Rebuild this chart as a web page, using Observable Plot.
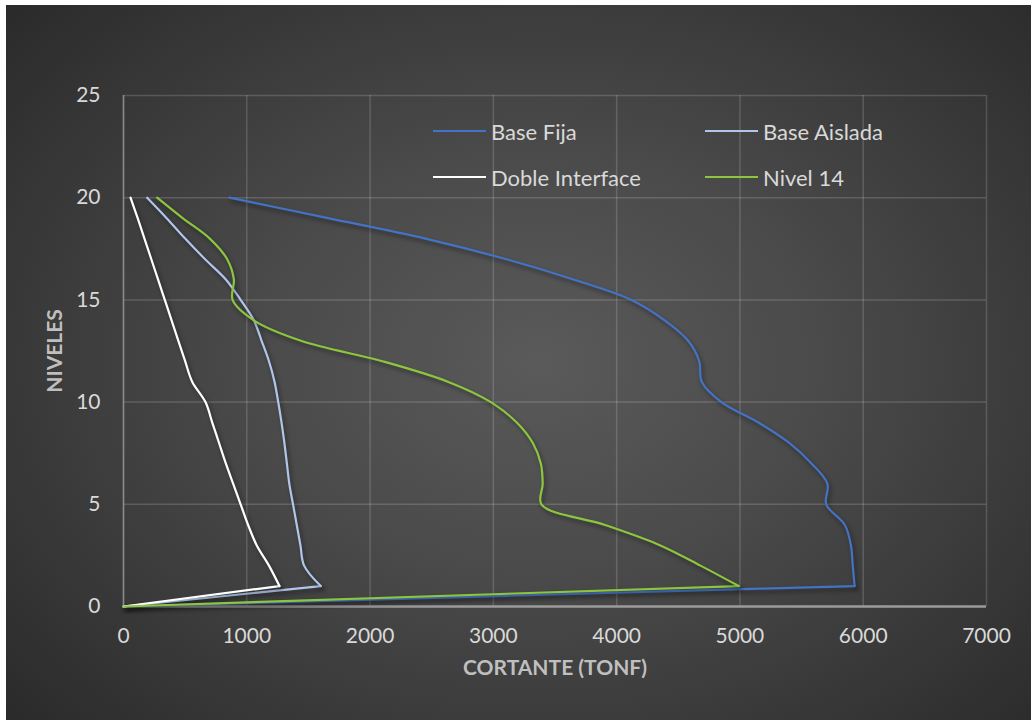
<!DOCTYPE html>
<html>
<head>
<meta charset="utf-8">
<script src="https://cdn.jsdelivr.net/npm/d3@7"></script>
<script src="https://cdn.jsdelivr.net/npm/@observablehq/plot@0.6"></script>
<style>
  html, body { margin: 0; padding: 0; background: #ffffff; }
  #wrap { position: relative; width: 1031px; height: 720px; overflow: hidden; }
  #bg {
    position: absolute; left: 6px; top: 5px; right: 0; bottom: 0;
    background: radial-gradient(ellipse 70% 75% at 52% 50%, #5a5a5a 0%, #4a4a4a 40%, #2a2a2a 100%);
  }
  #chart { position: absolute; left: 0; top: 0; }
  .legend { position: absolute; font-family: Lato, "Open Sans", sans-serif; font-size: 22px; color: #d9d9d9; }
  .item { position: absolute; display: flex; align-items: center; white-space: nowrap; }
  .swatch { display: inline-block; width: 53px; height: 2.5px; margin-right: 5px; }
</style>
</head>
<body>
<div id="wrap">
  <div id="bg"></div>
  <div id="chart"></div>
  <div id="legend" class="legend"></div>
</div>
<script>
// Storey levels (0 = base, 20 = roof)
const levels = [0, 1, 2, 3, 4, 5, 6, 7, 8, 9, 10, 11, 12, 13, 14, 15, 16, 17, 18, 19, 20];

// Storey shear (tonf) for each level
const baseFija       = [0, 5930, 5915, 5900, 5850, 5700, 5710, 5580, 5400, 5150, 4850, 4690, 4670, 4580, 4390, 4120, 3650, 3100, 2450, 1660, 860];
const baseAislada    = [0, 1600, 1465, 1435, 1405, 1375, 1345, 1325, 1305, 1282, 1255, 1225, 1180, 1120, 1057, 950, 830, 660, 500, 350, 192];
const dobleInterface = [0, 1265, 1180, 1080, 1010, 950, 890, 830, 775, 720, 665, 557, 500, 445, 390, 335, 280, 225, 170, 115, 57];
const nivel14        = [0, 4990, 4680, 4350, 3900, 3390, 3400, 3385, 3320, 3190, 2980, 2630, 2100, 1440, 1057, 885, 895, 840, 700, 480, 273];

const seriesNames  = ["Base Fija", "Base Aislada", "Doble Interface", "Nivel 14"];
const seriesValues = [baseFija, baseAislada, dobleInterface, nivel14];
const seriesColors = ["#4472C4", "#AFC6EA", "#FFFFFF", "#8CC63F"];

const xTicks = [0, 1000, 2000, 3000, 4000, 5000, 6000, 7000];
const yTicks = [0, 5, 10, 15, 20, 25];

// long-format table built from the arrays above
const rows = seriesNames.flatMap((name, i) =>
  levels.map((lv, j) => ({ serie: name, nivel: lv, cortante: seriesValues[i][j] }))
);
// the base segment (level 0 to 1) is straight; the storeys above are smoothed
const baseRows  = rows.filter(d => d.nivel <= 1);
const upperRows = rows.filter(d => d.nivel >= 1);

const lineStyle = { x: "cortante", y: "nivel", z: "serie", stroke: "serie", strokeWidth: 2.2, strokeLinecap: "round", strokeLinejoin: "round" };

const chart = Plot.plot({
  width: 1031,
  height: 720,
  marginLeft: 123,
  marginRight: 45,
  marginTop: 95,
  marginBottom: 114,
  style: { background: "transparent", fontFamily: "Lato, 'Open Sans', sans-serif", fontSize: "21px", color: "#d9d9d9" },
  x: { domain: [0, 7000] },
  y: { domain: [0, 25] },
  color: { domain: seriesNames, range: seriesColors },
  marks: [
    Plot.gridX(xTicks, { stroke: "#ffffff", strokeOpacity: 0.16, strokeWidth: 1.5 }),
    Plot.gridY(yTicks, { stroke: "#ffffff", strokeOpacity: 0.16, strokeWidth: 1.5 }),
    Plot.ruleX([0], { stroke: "#8a8a8a", strokeWidth: 1.5 }),
    Plot.ruleY([0], { stroke: "#9a9a9a", strokeWidth: 2.5 }),
    Plot.axisX({ ticks: xTicks, tickSize: 0, tickPadding: 22, tickFormat: d3.format("d"), label: null, fill: "#d9d9d9" }),
    Plot.axisY({ ticks: yTicks, tickSize: 0, tickPadding: 23, tickFormat: d3.format("d"), label: null, fill: "#d9d9d9" }),
    Plot.line(baseRows, { ...lineStyle, curve: "linear" }),
    Plot.line(upperRows, { ...lineStyle, curve: "catmull-rom" }),
    Plot.text(["CORTANTE (TONF)"], { frameAnchor: "bottom", dy: 68, fontWeight: "bold", fontSize: 21, fill: "#bfbfbf" }),
    Plot.text(["NIVELES"], { frameAnchor: "left", textAnchor: "middle", dx: -68, rotate: -90, fontWeight: "bold", fontSize: 21, fill: "#bfbfbf" })
  ]
});

// soft shadow under the series lines
chart.querySelectorAll("g[aria-label='line'] path").forEach(p => {
  p.style.filter = "drop-shadow(2px 3px 2px rgba(0,0,0,0.45))";
});
document.getElementById("chart").appendChild(chart);

// legend in two rows of two entries inside the plot area
const legend = document.getElementById("legend");
const slots = [[433, 131], [705, 131], [433, 177], [705, 177]];
seriesNames.forEach((name, i) => {
  const item = document.createElement("div");
  item.className = "item";
  item.style.left = slots[i][0] + "px";
  item.style.top = (slots[i][1] - 13) + "px";
  item.style.height = "26px";
  const sw = document.createElement("span");
  sw.className = "swatch";
  sw.style.background = seriesColors[i];
  const tx = document.createElement("span");
  tx.textContent = name;
  item.appendChild(sw);
  item.appendChild(tx);
  legend.appendChild(item);
});
</script>
</body>
</html>
